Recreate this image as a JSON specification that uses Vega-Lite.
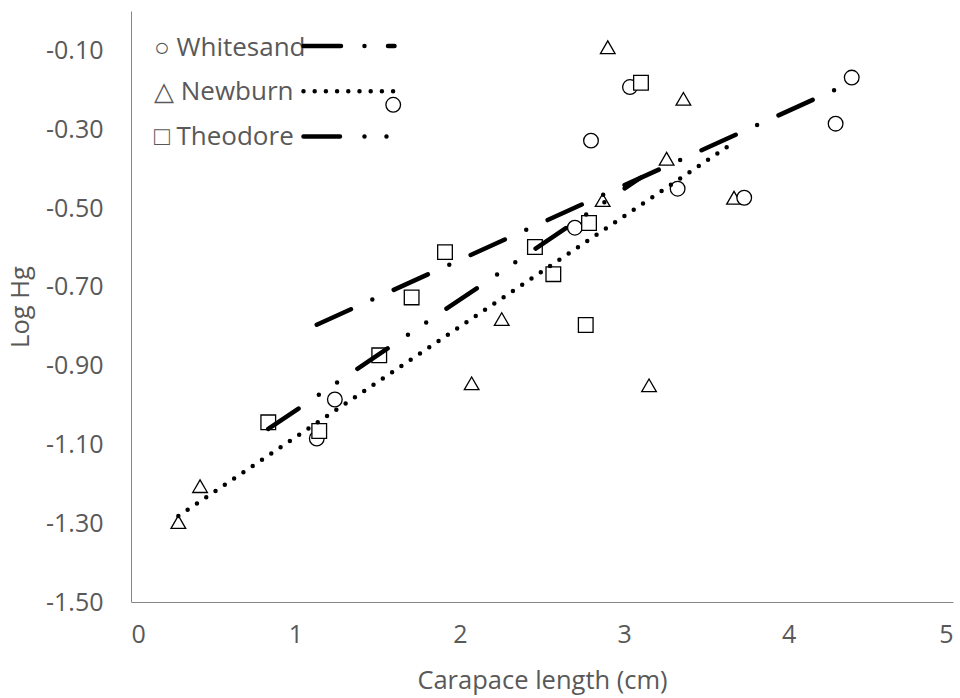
{
  "$schema": "https://vega.github.io/schema/vega-lite/v6.json",
  "width": 822,
  "height": 591,
  "autosize": {"type": "none"},
  "padding": {"left": 131, "top": 11, "right": 7, "bottom": 96},
  "background": "white",
  "config": {
    "view": {"stroke": null},
    "font": "Open Sans",
    "axis": {
      "grid": false,
      "ticks": false,
      "domainColor": "#868686",
      "domainWidth": 1,
      "labelColor": "#595959",
      "titleColor": "#595959",
      "labelFont": "Open Sans",
      "titleFont": "Open Sans",
      "labelFontSize": 25,
      "titleFontSize": 25.5,
      "titleFontWeight": "normal"
    }
  },
  "data": {
    "values": [
      {"series": "Newburn", "x": 0.288, "y": -1.297},
      {"series": "Newburn", "x": 0.42, "y": -1.206},
      {"series": "Newburn", "x": 2.072, "y": -0.945},
      {"series": "Newburn", "x": 2.255, "y": -0.782},
      {"series": "Newburn", "x": 2.869, "y": -0.48},
      {"series": "Newburn", "x": 2.9, "y": -0.092},
      {"series": "Newburn", "x": 3.151, "y": -0.95},
      {"series": "Newburn", "x": 3.258, "y": -0.375},
      {"series": "Newburn", "x": 3.36, "y": -0.223},
      {"series": "Newburn", "x": 3.668, "y": -0.474},
      {"series": "Whitesand", "x": 1.13, "y": -1.085},
      {"series": "Whitesand", "x": 1.24, "y": -0.986},
      {"series": "Whitesand", "x": 1.595, "y": -0.238},
      {"series": "Whitesand", "x": 2.7, "y": -0.55},
      {"series": "Whitesand", "x": 2.798, "y": -0.329},
      {"series": "Whitesand", "x": 3.035, "y": -0.193},
      {"series": "Whitesand", "x": 3.325, "y": -0.451},
      {"series": "Whitesand", "x": 3.73, "y": -0.474},
      {"series": "Whitesand", "x": 4.286, "y": -0.286},
      {"series": "Whitesand", "x": 4.384, "y": -0.169},
      {"series": "Theodore", "x": 0.835, "y": -1.044},
      {"series": "Theodore", "x": 1.145, "y": -1.066},
      {"series": "Theodore", "x": 1.51, "y": -0.874},
      {"series": "Theodore", "x": 1.707, "y": -0.727},
      {"series": "Theodore", "x": 1.91, "y": -0.612},
      {"series": "Theodore", "x": 2.457, "y": -0.599},
      {"series": "Theodore", "x": 2.569, "y": -0.668},
      {"series": "Theodore", "x": 2.766, "y": -0.797},
      {"series": "Theodore", "x": 2.786, "y": -0.538},
      {"series": "Theodore", "x": 3.102, "y": -0.182}
    ]
  },
  "layer": [
    {
      "mark": {"type": "point", "filled": false, "fill": "white", "fillOpacity": 1, "stroke": "black", "strokeWidth": 1.3, "size": 215, "opacity": 1},
      "encoding": {
        "x": {
          "field": "x", "type": "quantitative",
          "scale": {"domain": [0, 5], "nice": false, "zero": false},
          "axis": {"values": [0, 1, 2, 3, 4, 5], "format": "d", "title": "Carapace length (cm)", "labelPadding": 20, "titlePadding": 21}
        },
        "y": {
          "field": "y", "type": "quantitative",
          "scale": {"domain": [-1.5, 0], "nice": false, "zero": false},
          "axis": {
            "values": [-1.5, -1.3, -1.1, -0.9, -0.7, -0.5, -0.3, -0.1],
            "labelExpr": "replace(format(datum.value, '.2f'), '\u2212', '-')",
            "title": "Log Hg", "labelPadding": 28, "titlePadding": 12
          }
        },
        "shape": {
          "field": "series", "type": "nominal",
          "scale": {"domain": ["Whitesand", "Newburn", "Theodore"], "range": ["circle", "triangle-up", "square"]},
          "legend": {
            "orient": "none", "legendX": -8, "legendY": 24, "title": null, "padding": 0,
            "symbolSize": 170, "symbolOpacity": 0, "symbolFillColor": "transparent", "symbolStrokeColor": "transparent", "symbolStrokeWidth": 1.3,
            "labelFontSize": 26, "labelColor": "#595959", "labelFont": "Open Sans", "labelOffset": 5, "rowPadding": 18.3,
            "labelExpr": "(datum.label == 'Whitesand' ? '\u25cb' : datum.label == 'Newburn' ? '\u25b3' : '\u25a1') + ' ' + datum.label"
          }
        }
      }
    },
    {
      "transform": [{"regression": "y", "on": "x", "groupby": ["series"]}],
      "mark": {"type": "line", "color": "black", "strokeWidth": 4.5, "strokeCap": "round"},
      "encoding": {
        "x": {"field": "x", "type": "quantitative"},
        "y": {"field": "y", "type": "quantitative"},
        "strokeDash": {
          "field": "series", "type": "nominal",
          "sort": ["Whitesand", "Newburn", "Theodore"],
          "scale": {"range": [[37.5, 23.5, 0, 23.5], [0, 11.2], [36.5, 24.5, 0, 22, 0, 24.5]]},
          "legend": {
            "orient": "none", "legendX": 204, "legendY": 21, "title": null, "padding": 0,
            "symbolType": "M-4,0H4", "symbolSize": 518, "symbolStrokeColor": "black", "symbolStrokeWidth": 4.5,
            "labelFontSize": 26, "labelOpacity": 0, "labelOffset": 12, "rowPadding": 18.3,
            "encode": {"symbols": {"update": {"strokeCap": {"value": "round"}}}}
          }
        }
      }
    }
  ]
}
